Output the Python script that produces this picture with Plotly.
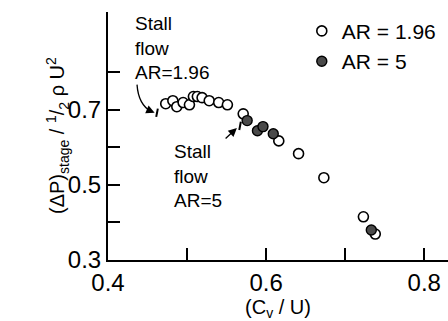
import plotly.graph_objects as go

# Data: (C_v/U) vs (ΔP)_stage / (1/2 ρ U^2)
ar196_x = [0.473, 0.482, 0.487, 0.495, 0.503, 0.508, 0.513, 0.519, 0.528, 0.540, 0.551, 0.571,
           0.616, 0.641, 0.673, 0.723, 0.738]
ar196_y = [0.716, 0.724, 0.708, 0.719, 0.713, 0.735, 0.735, 0.732, 0.724, 0.719, 0.713, 0.689,
           0.617, 0.583, 0.519, 0.415, 0.369]
ar5_x = [0.576, 0.589, 0.596, 0.609, 0.733]
ar5_y = [0.671, 0.644, 0.655, 0.636, 0.380]

# stall flow markers
stall_x = [0.462, 0.567]
stall_y = [0.692, 0.657]

x_ticks = [0.4, 0.6, 0.8]
x_ticktext = ["0.4", "0.6", "0.8"]
x_minor = [0.5, 0.7]
y_ticks = [0.3, 0.5, 0.7]
y_ticktext = ["0.3", "0.5", "0.7"]
y_minor = [0.4, 0.6, 0.8]

FONT = "Liberation Sans"

fig = go.Figure()
fig.add_trace(go.Scatter(
    x=ar196_x, y=ar196_y, mode="markers", name="AR = 1.96",
    marker=dict(symbol="circle", size=10, color="white", line=dict(color="black", width=1.6)),
))
fig.add_trace(go.Scatter(
    x=ar5_x, y=ar5_y, mode="markers", name="AR = 5",
    marker=dict(symbol="circle", size=10, color="#4a4a4a", line=dict(color="black", width=1.4)),
))

# stall tick marks
for sx, sy in zip(stall_x, stall_y):
    fig.add_shape(type="line", x0=sx - 0.001, y0=sy - 0.011, x1=sx + 0.001, y1=sy + 0.011,
                  line=dict(color="black", width=2))

# curved arrow for AR=1.96 stall
fig.add_shape(type="path",
              path="M 0.4367,0.7667 Q 0.4385,0.712 0.4555,0.694",
              line=dict(color="black", width=1.3))
fig.add_annotation(x=stall_x[0] - 0.003, y=stall_y[0], ax=0.4535, ay=0.697,
                   xref="x", yref="y", axref="x", ayref="y",
                   text="", showarrow=True, arrowhead=2, arrowsize=1.3, arrowwidth=1.3,
                   arrowcolor="black")
# straight arrow for AR=5 stall
fig.add_annotation(x=stall_x[1] - 0.004, y=stall_y[1] - 0.006, ax=0.5468, ay=0.62,
                   xref="x", yref="y", axref="x", ayref="y",
                   text="", showarrow=True, arrowhead=2, arrowsize=1.3, arrowwidth=1.3,
                   arrowcolor="black")

fig.add_annotation(x=0.4316, y=0.865, xref="x", yref="y", xanchor="left", yanchor="middle",
                   text="Stall<br>flow<br>AR=1.96", showarrow=False, align="left",
                   font=dict(family=FONT, size=19, color="black"))
fig.add_annotation(x=0.481, y=0.524, xref="x", yref="y", xanchor="left", yanchor="middle",
                   text="Stall<br>flow<br>AR=5", showarrow=False, align="left",
                   font=dict(family=FONT, size=19, color="black"))

# y-axis title placed close to the tick labels, as in the reference
fig.add_annotation(x=-0.15, y=0.5, xref="paper", yref="paper", xanchor="center", yanchor="middle",
                   textangle=-90, showarrow=False,
                   text="(ΔP)<sub>stage</sub> / <sup>1</sup>/<sub>2</sub> ρ U<sup>2</sup>",
                   font=dict(family=FONT, size=20, color="black"))

axis_common = dict(
    ticks="inside", ticklen=12, tickwidth=1.5, tickcolor="black",
    showline=True, linecolor="black", linewidth=2, showgrid=False, zeroline=False,
    tickfont=dict(family=FONT, size=24, color="black"),
)

fig.update_layout(
    width=448, height=321,
    margin=dict(l=108, r=0, t=12, b=61),
    paper_bgcolor="white", plot_bgcolor="white",
    font=dict(family=FONT, color="black"),
    showlegend=True,
    legend=dict(x=0.57, y=1.005, xanchor="left", yanchor="top",
                font=dict(family=FONT, size=21, color="black"),
                bgcolor="rgba(0,0,0,0)", itemwidth=30, tracegroupgap=0),
    xaxis=dict(range=[0.4, 0.83], tickmode="array", tickvals=x_ticks, ticktext=x_ticktext,
               minor=dict(tickmode="array", tickvals=x_minor, ticks="inside", ticklen=12,
                          tickwidth=1.5, tickcolor="black", showgrid=False),
               title=dict(text="(C<sub>v</sub> / U)", font=dict(family=FONT, size=20, color="black"),
                          standoff=2),
               **axis_common),
    yaxis=dict(range=[0.3, 0.96], tickmode="array", tickvals=y_ticks, ticktext=y_ticktext,
               minor=dict(tickmode="array", tickvals=y_minor, ticks="inside", ticklen=12,
                          tickwidth=1.5, tickcolor="black", showgrid=False),
               **axis_common),
)

fig.write_html("out.html")
